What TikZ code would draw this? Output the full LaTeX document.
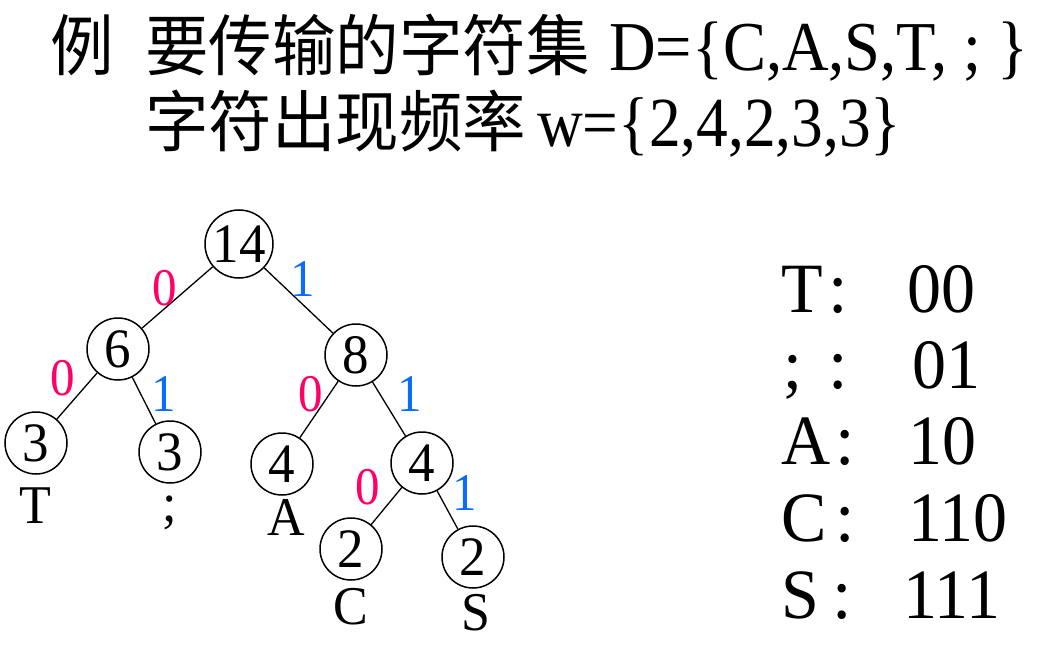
\documentclass[tikz,border=0pt]{standalone}
\usepackage{graphicx}
\usepackage{fontspec}
\setmainfont{Liberation Serif}
\newfontfamily\cjk{Noto Sans CJK SC}
\definecolor{zred}{HTML}{FF0066}
\definecolor{zblue}{HTML}{0A6CFF}
\newcommand\ystr[2]{\scalebox{1}[#1]{#2}}
\begin{document}
\begin{tikzpicture}[x=1pt,y=-1pt,
  tnode/.style={draw=black,line width=1.5pt,circle,inner sep=0pt,minimum size=62pt,font=\fontsize{53}{53}\selectfont},
  rnode/.style={tnode,minimum size=68pt},
  leaf/.style={font=\fontsize{52}{52}\selectfont,inner sep=0pt},
  zero/.style={text=zred,font=\fontsize{49}{49}\selectfont,inner sep=0pt},
  one/.style={text=zblue,font=\fontsize{49}{49}\selectfont,inner sep=0pt},
  edge/.style={draw=black,line width=1.3pt},
  title/.style={anchor=base west,inner sep=0pt,font=\fontsize{62}{62}\selectfont},
  ctitle/.style={anchor=base west,inner sep=0pt,font=\cjk\fontsize{63.5}{63.5}\selectfont},
  tab/.style={anchor=base west,inner sep=0pt,font=\fontsize{68}{68}\selectfont},
  colon/.style={anchor=base,inner sep=0pt,font=\fontsize{70}{70}\selectfont}]
\useasboundingbox (0,0) rectangle (1049,655);
% title
\node[ctitle] (t0) at (50,71) {\ystr{1.05}{例}};
\node[ctitle] (t1) at (145,71) {\ystr{1.05}{要传输的字符集}};
\node[title] (t1b) at (609,71) {\scalebox{1.04}[1.13]{D=\{C,A,S,T, ; \}}};
\node[ctitle] (t2) at (145,147) {\ystr{1.05}{字符出现频率}};
\node[title,font=\fontsize{64}{64}\selectfont] (t2b) at (537,147) {\scalebox{0.99}[1.1]{w=\{2,4,2,3,3\}}};
% tree
\node[rnode] (n14) at (239,244) {\ystr{1.05}{14}};
\node[tnode] (n6) at (118,349) {\ystr{1.05}{6}};
\node[tnode] (n8) at (356,355) {\ystr{1.05}{8}};
\node[tnode] (n3a) at (36,443) {\ystr{1.05}{3}};
\node[tnode] (n3b) at (170,452) {\ystr{1.05}{3}};
\node[tnode] (n4a) at (282,464) {\ystr{1.05}{4}};
\node[tnode] (n4b) at (422,463) {\ystr{1.05}{4}};
\node[tnode] (n2a) at (351,549) {\ystr{1.05}{2}};
\node[tnode] (n2b) at (473,557) {\ystr{1.05}{2}};
\draw[edge] (n14) -- (n6);
\draw[edge] (n14) -- (n8);
\draw[edge] (n6) -- (n3a);
\draw[edge] (n6) -- (n3b);
\draw[edge] (n8) -- (n4a);
\draw[edge] (n8) -- (n4b);
\draw[edge] (n4b) -- (n2a);
\draw[edge] (n4b) -- (n2b);
% leaf letters
\node[leaf] (lT) at (35,506) {\ystr{1.05}{T}};
\node[leaf] (lsc) at (170,513) {\ystr{1.05}{;}};
\node[leaf] (lA) at (286,517) {\ystr{1.05}{A}};
\node[leaf] (lC) at (351,607) {\ystr{1.05}{C}};
\node[leaf] (lS) at (476,613) {\ystr{1.05}{S}};
% edge labels
\node[zero] (e1) at (165,288) {\ystr{1.08}{0}};
\node[one] (e2) at (303,279) {\ystr{1.08}{1}};
\node[zero] (e3) at (63,378) {\ystr{1.08}{0}};
\node[one] (e4) at (164,394) {\ystr{1.08}{1}};
\node[zero] (e5) at (311,394) {\ystr{1.08}{0}};
\node[one] (e6) at (410,394) {\ystr{1.08}{1}};
\node[zero] (e7) at (368,487) {\ystr{1.08}{0}};
\node[one] (e8) at (465,493) {\ystr{1.08}{1}};
% code table
\node[tab] (cT) at (781,312) {\ystr{1.04}{T}};
\node[colon] (kT) at (838,312) {\ystr{1.04}{:}};
\node[tab] (vT) at (907,312) {\ystr{1.04}{00}};
\node[tab] (cs) at (783,388) {\ystr{1.04}{;}};
\node[colon] (ks) at (838,388) {\ystr{1.04}{:}};
\node[tab] (vs) at (912,388) {\ystr{1.04}{01}};
\node[tab] (cA) at (781,464) {\ystr{1.04}{A}};
\node[colon] (kA) at (845,464) {\ystr{1.04}{:}};
\node[tab] (vA) at (908,464) {\ystr{1.04}{10}};
\node[tab] (cC) at (781,541) {\ystr{1.04}{C}};
\node[colon] (kC) at (845,541) {\ystr{1.04}{:}};
\node[tab] (vC) at (908,541) {\ystr{1.04}{110}};
\node[tab] (cS) at (781,618) {\ystr{1.04}{S}};
\node[colon] (kS) at (842,618) {\ystr{1.04}{:}};
\node[tab] (vS) at (903,618) {\ystr{1.04}{111}};
\end{tikzpicture}
\end{document}
